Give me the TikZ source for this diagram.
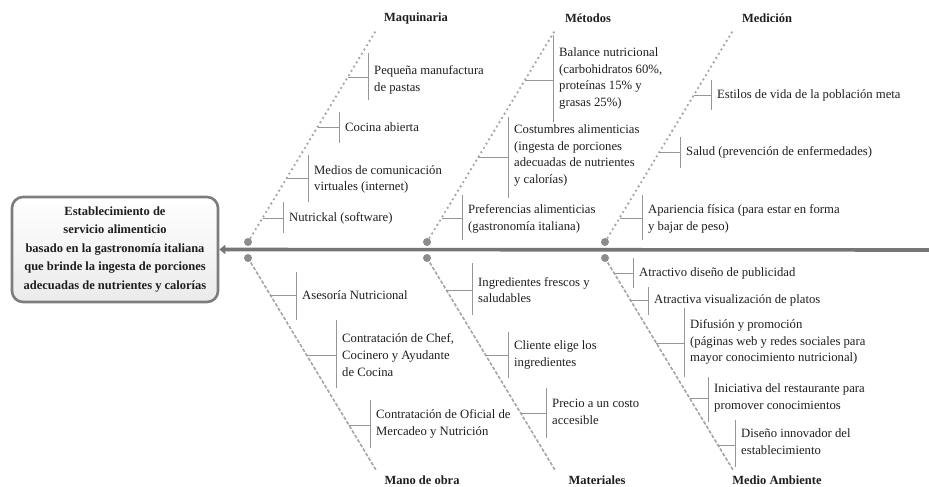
\documentclass[tikz,border=0pt]{standalone}
\usepackage{fontspec}
\setmainfont{Liberation Serif}
\usetikzlibrary{arrows.meta,calc}
\definecolor{spinegray}{RGB}{118,118,118}
\definecolor{bonegray}{RGB}{165,165,165}
\definecolor{twiggray}{RGB}{150,150,150}
\definecolor{framegray}{RGB}{125,125,125}
\definecolor{inkgray}{RGB}{30,30,30}

% cause on an upper bone: name, base, tip, tick y, bar x, bar top, bar bottom, text y, text
\newcommand\upcause[9]{%
  \coordinate (#1-b) at ($(#2)!{(242-#4)/210}!(#3)$);
  \coordinate (#1-t) at (#5,#6);
  \coordinate (#1-u) at (#5,#7);
  \draw[twig] (#1-t) -- (#1-u);
  \draw[twig] (#1-b) -- (#1-b -| #1-t);
  \node[cause] (#1) at (#5+6,#8) {#9};
}
% cause on a lower bone: same arguments
\newcommand\lowcause[9]{%
  \coordinate (#1-b) at ($(#2)!{(#4-258)/212}!(#3)$);
  \coordinate (#1-t) at (#5,#6);
  \coordinate (#1-u) at (#5,#7);
  \draw[twig] (#1-t) -- (#1-u);
  \draw[twig] (#1-b) -- (#1-b -| #1-t);
  \node[cause] (#1) at (#5+6,#8) {#9};
}

\begin{document}
\begin{tikzpicture}[x=1pt,y=-1pt,
  cause/.style={anchor=west, align=left, inner sep=0pt, text=inkgray,
    font=\fontsize{12.7}{16.8}\selectfont},
  cat/.style={inner sep=0pt, text=inkgray, font=\fontsize{12.5}{15}\selectfont\bfseries},
  upbone/.style={draw=bonegray, line width=2.6pt, line cap=round, dash pattern=on 0pt off 5pt},
  lowbone/.style={draw=bonegray, line width=1.6pt, dash pattern=on 3.5pt off 1.8pt},
  twig/.style={draw=twiggray, line width=0.8pt},
  knot/.style={fill=bonegray!85!black, draw=none},
  effect/.style={draw=framegray, line width=2.6pt, rounded corners=11pt,
    top color=white, bottom color=black!8, align=center, inner sep=0pt,
    minimum width=206pt, minimum height=105pt, text=inkgray,
    font=\fontsize{12.5}{18.5}\selectfont\bfseries},
  spine/.style={draw=spinegray, line width=3.6pt,
    -{Triangle[length=6pt,width=9pt]}},
]
\useasboundingbox (0,0) rectangle (929,487);

% effect box and spine
\node[effect] (effect) at (115,249.5) {Establecimiento de\\servicio alimenticio\\basado en la gastronomía italiana\\que brinde la ingesta de porciones\\adecuadas de nutrientes y calorías};
\coordinate (spineend) at (929,250);
\draw[spine] (spineend) -- (effect.east);

% bones
\foreach \n/\xb in {a/248,b/427,c/605}{
  \coordinate (\n0) at (\xb,242);
  \coordinate (\n1) at (\xb+127,32);
  \coordinate (\n2) at (\xb,258);
  \coordinate (\n3) at (\xb+128,470);
  \draw[upbone] (\n0) -- (\n1);
  \draw[lowbone] (\n2) -- (\n3);
  \fill[knot] (\n0) circle (4pt);
  \fill[knot] (\n2) circle (4pt);
}

% category titles
\node[cat] (maq) at (416,18) {Maquinaria};
\node[cat] (met) at (588,18) {Métodos};
\node[cat] (med) at (767,18) {Medición};
\node[cat] (mob) at (422,480) {Mano de obra};
\node[cat] (mat) at (597,480) {Materiales};
\node[cat] (amb) at (777,480) {Medio Ambiente};

% Maquinaria
\upcause{mq1}{a0}{a1}{77}{368}{53}{100}{79.5}{Pequeña manufactura\\de pastas}
\upcause{mq2}{a0}{a1}{127}{339}{112}{143}{127}{Cocina abierta}
\upcause{mq3}{a0}{a1}{178}{308}{155}{202}{179.5}{Medios de comunicación\\virtuales (internet)}
\upcause{mq4}{a0}{a1}{218}{283}{202}{233}{218}{Nutrickal (software)}

% Métodos
\upcause{me1}{b0}{b1}{80}{553}{35}{122}{78.5}{Balance nutricional\\(carbohidratos 60\%,\\proteínas 15\% y\\grasas 25\%)}
\upcause{me2}{b0}{b1}{157}{508}{117}{198}{155.5}{Costumbres alimenticias\\(ingesta de porciones\\adecuadas de nutrientes\\y calorías)}
\upcause{me3}{b0}{b1}{218}{462}{195}{240}{219}{Preferencias alimenticias\\(gastronomía italiana)}

% Medición
\upcause{md1}{c0}{c1}{95}{711}{80}{110}{95}{Estilos de vida de la población meta}
\upcause{md2}{c0}{c1}{152}{680}{137}{168}{152}{Salud (prevención de enfermedades)}
\upcause{md3}{c0}{c1}{218}{642}{195}{240}{219}{Apariencia física (para estar en forma\\y bajar de peso)}

% Mano de obra
\lowcause{mo1}{a2}{a3}{295}{296}{272}{320}{295}{Asesoría Nutricional}
\lowcause{mo2}{a2}{a3}{355}{336}{320}{388}{355}{Contratación de Chef,\\Cocinero y Ayudante\\de Cocina}
\lowcause{mo3}{a2}{a3}{425}{370}{400}{448}{424}{Contratación de Oficial de\\Mercadeo y Nutrición}

% Materiales
\lowcause{ma1}{b2}{b3}{290}{472}{263}{315}{290}{Ingredientes frescos y\\saludables}
\lowcause{ma2}{b2}{b3}{355}{508}{332}{378}{355}{Cliente elige los\\ingredientes}
\lowcause{ma3}{b2}{b3}{413}{546}{388}{438}{412}{Precio a un costo\\accesible}

% Medio Ambiente
\lowcause{ab1}{c2}{c3}{273}{633}{258}{288}{273}{Atractivo diseño de publicidad}
\lowcause{ab2}{c2}{c3}{300}{648}{287}{315}{300}{Atractiva visualización de platos}
\lowcause{ab3}{c2}{c3}{343}{684}{308}{377}{342}{Difusión y promoción\\(páginas web y redes sociales para\\mayor conocimiento nutricional)}
\lowcause{ab4}{c2}{c3}{398}{708}{377}{422}{398}{Iniciativa del restaurante para\\promover conocimientos}
\lowcause{ab5}{c2}{c3}{445}{735}{420}{467}{442}{Diseño innovador del\\establecimiento}
\end{tikzpicture}
\end{document}
